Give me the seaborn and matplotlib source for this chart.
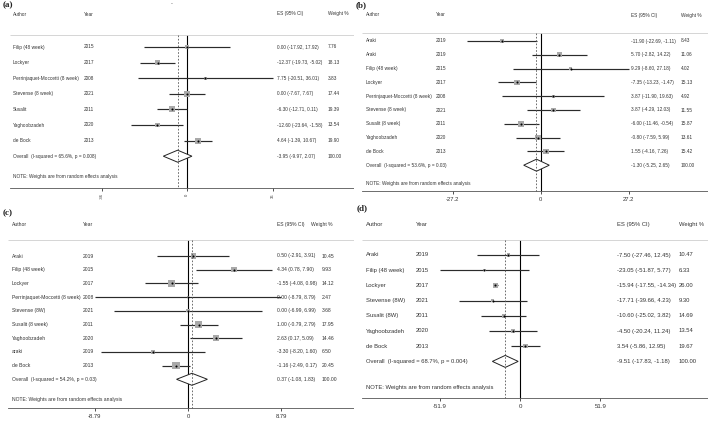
import numpy as np
import pandas as pd
import matplotlib
matplotlib.use("Agg")
import matplotlib.pyplot as plt
import seaborn as sns

# ---- data -------------------------------------------------------------
# (a)
authors_a = ["Filip (48 week)", "Lockyer", "Perrinjaquet-Moccetti (8 week)",
             "Stevense (8 week)", "Susalit", "Yaghoobzadeh", "de Bock"]
years_a = [2015, 2017, 2008, 2021, 2011, 2020, 2013]
es_a = [0.00, -12.37, 7.75, 0.00, -6.30, -12.60, 4.64]
lo_a = [-17.92, -19.73, -20.51, -7.67, -12.71, -23.64, -1.39]
hi_a = [17.92, -5.02, 36.01, 7.67, 0.11, -1.58, 10.67]
wt_a = [7.76, 18.13, 3.83, 17.44, 19.39, 13.54, 19.90]
overall_a = (-3.95, -9.97, 2.07, "65.6%", "0.008")
ticks_a = [-36, 0, 36]

# (b)
authors_b = ["Araki", "Araki", "Filip (48 week)", "Lockyer",
             "Perrinjaquet-Moccetti (8 week)", "Stevense (8 week)",
             "Susalit (8 week)", "Yaghoobzadeh", "de Bock"]
years_b = [2019, 2019, 2015, 2017, 2008, 2021, 2011, 2020, 2013]
es_b = [-11.90, 5.70, 9.29, -7.35, 3.87, 3.87, -6.00, -0.80, 1.55]
lo_b = [-22.69, -2.82, -8.60, -13.23, -11.90, -4.29, -11.46, -7.59, -4.16]
hi_b = [-1.11, 14.22, 27.18, -1.47, 19.63, 12.03, -0.54, 5.99, 7.26]
wt_b = [8.43, 11.06, 4.02, 15.13, 4.92, 11.55, 15.87, 13.61, 15.42]
overall_b = (-1.30, -5.25, 2.65, "53.6%", "0.03")
ticks_b = [-27.2, 0, 27.2]

# (c)
authors_c = ["Araki", "Filip (48 week)", "Lockyer",
             "Perrinjaquet-Moccetti (8 week)", "Stevense (8W)",
             "Susalit (8 week)", "Yaghoobzadeh", "araki", "de Bock"]
years_c = [2019, 2015, 2017, 2008, 2021, 2011, 2020, 2019, 2013]
es_c = [0.50, 4.34, -1.55, 0.00, 0.00, 1.00, 2.63, -3.30, -1.16]
lo_c = [-2.91, 0.78, -4.08, -8.79, -6.99, -0.79, 0.17, -8.20, -2.49]
hi_c = [3.91, 7.90, 0.98, 8.79, 6.99, 2.79, 5.09, 1.60, 0.17]
wt_c = [10.45, 9.93, 14.12, 2.47, 3.68, 17.95, 14.46, 6.50, 20.45]
overall_c = (0.37, -1.08, 1.83, "54.2%", "0.03")
ticks_c = [-8.79, 0, 8.79]

# (d)
authors_d = ["Araki", "Filip (48 week)", "Lockyer", "Stevense (8W)",
             "Susalit (8W)", "Yaghoobzadeh", "de Bock"]
years_d = [2019, 2015, 2017, 2021, 2011, 2020, 2013]
es_d = [-7.50, -23.05, -15.94, -17.71, -10.60, -4.50, 3.54]
lo_d = [-27.46, -51.87, -17.55, -39.66, -25.02, -20.24, -5.86]
hi_d = [12.45, 5.77, -14.34, 4.23, 3.82, 11.24, 12.95]
wt_d = [10.47, 6.33, 26.00, 9.30, 14.69, 13.54, 19.67]
overall_d = (-9.51, -17.83, -1.18, "68.7%", "0.004")
ticks_d = [-51.9, 0, 51.9]

# ---- layout -----------------------------------------------------------
W, H = 708, 421
sns.set_theme(style="white")
plt.rcParams["font.family"] = ["Liberation Sans", "DejaVu Sans"]
TXT = "#333333"

fig = plt.figure(figsize=(W / 100, H / 100), dpi=100)


def fmt(v):
    return f"{v:.2f}"


def tick_fmt(v):
    if v == 0:
        return "0"
    return f"{v:g}"


def panel(tag, authors, years, es, lo, hi, wt, overall, ticks, g,
          fs=3.45, box_k=1.35, tick_rot=0, tick_fs=4.2):
    df = pd.DataFrame({"author": authors, "year": years, "es": es,
                       "lo": lo, "hi": hi, "wt": wt})
    df["row"] = np.arange(len(df))
    x0, x1, y0, y1 = g["rect"]
    ax = fig.add_axes([x0 / W, 1 - y1 / H, (x1 - x0) / W, (y1 - y0) / H])
    z, ppu, r0, dy = g["zero"], g["ppu"], g["row0"], g["dy"]
    px = lambda p: (p - z) / ppu
    py = lambda p: (p - r0) / dy
    ax.set_xlim(px(x0), px(x1))
    ax.set_ylim(py(y1), py(y0))
    orow = len(df)
    sep, axy = py(g["sep"]), py(g["axis"])

    # study CIs, weighted boxes and point estimates
    ax.hlines(df["row"], df["lo"], df["hi"], color="#2b2b2b", lw=0.85, zorder=2)
    sns.scatterplot(data=df, x="es", y="row", marker="s",
                    s=(box_k * np.sqrt(df["wt"]) * 0.72) ** 2,
                    color="#a9a9a9", linewidth=0, ax=ax, zorder=3, legend=False)
    sns.scatterplot(data=df, x="es", y="row", marker="o", s=2.2,
                    color="black", linewidth=0, ax=ax, zorder=4, legend=False)

    # overall diamond
    oes, olo, ohi, isq, pval = overall
    h = 6.0 / dy
    ax.fill([olo, oes, ohi, oes], [orow, orow - h, orow, orow + h],
            facecolor="white", edgecolor="#222222", lw=0.7, zorder=3)

    # reference lines
    ax.vlines(0, sep, axy, color="black", lw=0.8, zorder=1)
    ax.vlines(oes, sep, axy, color="#555555", lw=0.6,
              linestyles=(0, (2, 2)), zorder=4)
    ax.hlines(sep, px(g["line_x0"]), px(x1), color="#cfcfcf", lw=0.6)

    # bottom axis
    for s in ["top", "left", "right"]:
        ax.spines[s].set_visible(False)
    ax.spines["bottom"].set_position(("data", axy))
    ax.spines["bottom"].set_bounds(px(g["line_x0"]), px(x1))
    ax.spines["bottom"].set_color("#555555")
    ax.spines["bottom"].set_linewidth(0.6)
    ax.set_xticks(ticks, [tick_fmt(t) for t in ticks])
    ax.tick_params(axis="x", bottom=True, direction="out", length=2.5,
                   width=0.6, labelsize=tick_fs, pad=1.5, colors=TXT,
                   labelrotation=tick_rot)
    ax.set_yticks([])
    ax.set_xlabel("")
    ax.set_ylabel("")

    # text columns
    ca, cy, ce, cw = (px(v) for v in g["cols"])
    cwh = px(g.get("wt_head", g["cols"][3]))
    hy = py(g["head"])
    kw = dict(fontsize=fs, color=TXT, va="center", ha="left")
    ax.text(ca, hy, "Author", **kw)
    ax.text(cy, hy, "Year", **kw)
    ax.text(ce, hy, "ES (95% CI)", **kw)
    ax.text(cwh, hy, "Weight %", **kw)
    for _, r in df.iterrows():
        ax.text(ca, r["row"], r["author"], **kw)
        ax.text(cy, r["row"], str(r["year"]), **kw)
        ax.text(ce, r["row"], f"{fmt(r['es'])} ({fmt(r['lo'])}, {fmt(r['hi'])})", **kw)
        ax.text(cw, r["row"], fmt(r["wt"]), **kw)
    ax.text(ca, orow, f"Overall  (I-squared = {isq}, p = {pval})", **kw)
    ax.text(ce, orow, f"{fmt(oes)} ({fmt(olo)}, {fmt(ohi)})", **kw)
    ax.text(cw, orow, "100.00", **kw)
    ax.text(ca, py(g["note"]), "NOTE: Weights are from random effects analysis", **kw)

    tx, ty = g["tag"]
    ax.text(px(tx), py(ty), tag, fontsize=6.5, fontweight="bold",
            family="Liberation Serif", color="#222222", va="center", ha="left")
    return ax, px, py


geom_a = dict(rect=(0, 354, 0, 205), zero=187, ppu=2.375, row0=47, dy=15.6,
              head=14, sep=35, note=176, axis=188, line_x0=10,
              cols=(13, 84, 277, 328), tag=(3, 5))
geom_b = dict(rect=(354, 708, 0, 205), zero=540.7, ppu=3.24, row0=41, dy=13.8,
              head=15, sep=33, note=183, axis=191, line_x0=362,
              cols=(366, 436, 631, 681), tag=(356, 5))
geom_c = dict(rect=(0, 354, 205, 421), zero=188, ppu=10.6, row0=256, dy=13.7,
              head=225, sep=240, note=399, axis=408, line_x0=8,
              cols=(12, 83, 277, 322), wt_head=311, tag=(3, 213))
geom_d = dict(rect=(354, 708, 205, 421), zero=520, ppu=1.55, row0=255, dy=15.2,
              head=225, sep=240, note=387, axis=398, line_x0=362,
              cols=(366, 416, 617, 679), tag=(357, 208))

ax_a, pxa, pya = panel("(a)", authors_a, years_a, es_a, lo_a, hi_a, wt_a,
                       overall_a, ticks_a, geom_a, box_k=1.35,
                       tick_rot=90, tick_fs=3)
ax_a.text(pxa(171), pya(3), ".", fontsize=5, color=TXT, ha="center", va="center")
panel("(b)", authors_b, years_b, es_b, lo_b, hi_b, wt_b, overall_b, ticks_b,
      geom_b, box_k=1.43)
panel("(c)", authors_c, years_c, es_c, lo_c, hi_c, wt_c, overall_c, ticks_c,
      geom_c, fs=3.6, box_k=1.7)
panel("(d)", authors_d, years_d, es_d, lo_d, hi_d, wt_d, overall_d, ticks_d,
      geom_d, fs=4.2, box_k=0.98, tick_fs=4.4)

fig.savefig("out.png", dpi=100)
